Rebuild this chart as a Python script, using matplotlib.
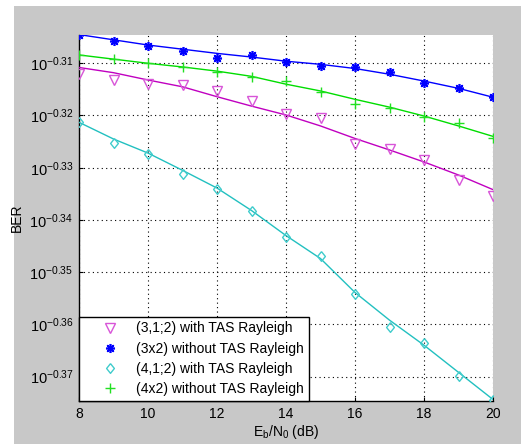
import matplotlib
matplotlib.use("Agg")
import matplotlib.pyplot as plt
import matplotlib.ticker as mticker
from matplotlib.patches import Rectangle
import numpy as np

plt.rcParams['font.family'] = ['Liberation Sans', 'DejaVu Sans']
plt.rcParams['mathtext.fontset'] = 'custom'
plt.rcParams['mathtext.rm'] = 'Liberation Sans'
plt.rcParams['mathtext.it'] = 'Liberation Sans'

# Eb/N0 (dB)
snr = [8, 9, 10, 11, 12, 13, 14, 15, 16, 17, 18, 19, 20]

# BER values given as log10 exponents
# simulated points (markers)
sim_31_tas = [-0.3121, -0.3132, -0.3140, -0.3142, -0.3153, -0.3172, -0.3198,
              -0.3204, -0.3255, -0.3264, -0.3286, -0.3324, -0.3355]
sim_3x2 = [-0.3045, -0.3057, -0.3066, -0.3076, -0.3089, -0.3085, -0.3098,
           -0.3105, -0.3108, -0.3116, -0.3137, -0.3148, -0.3165]
sim_41_tas = [-0.3213, -0.3252, -0.3273, -0.3312, -0.3340, -0.3383, -0.3433,
              -0.3470, -0.3541, -0.3605, -0.3636, -0.3699, -0.3745]
sim_4x2 = [-0.3085, -0.3092, -0.3100, -0.3108, -0.3116, -0.3126, -0.3134,
           -0.3155, -0.3178, -0.3186, -0.3202, -0.3215, -0.3244]

# analytical curves (lines)
ana_31_tas = [-0.3108, -0.3118, -0.3132, -0.3145, -0.3164, -0.3182, -0.3199,
              -0.3220, -0.3244, -0.3266, -0.3289, -0.3314, -0.3342]
ana_3x2 = [-0.3045, -0.3055, -0.3065, -0.3073, -0.3081, -0.3088, -0.3096,
           -0.3102, -0.3110, -0.3121, -0.3134, -0.3148, -0.3165]
ana_41_tas = [-0.3213, -0.3245, -0.3272, -0.3305, -0.3339, -0.3382, -0.3430,
              -0.3474, -0.3539, -0.3592, -0.3640, -0.3692, -0.3744]
ana_4x2 = [-0.3084, -0.3092, -0.3100, -0.3107, -0.3115, -0.3125, -0.3140,
           -0.3153, -0.3169, -0.3184, -0.3201, -0.3220, -0.3240]

labels = ['(3,1;2) with TAS Rayleigh', '(3x2) without TAS Rayleigh',
          '(4,1;2) with TAS Rayleigh', '(4x2) without TAS Rayleigh']

xticks = [8, 10, 12, 14, 16, 18, 20]
ytick_exp = [-0.31, -0.32, -0.33, -0.34, -0.35, -0.36, -0.37]
ytick_lbl = ['-0.31', '-0.32', '-0.33', '-0.34', '-0.35', '-0.36', '-0.37']

W, H = 521, 444
fig = plt.figure(figsize=(W / 100, H / 100), dpi=100, facecolor='white')
fig.patches.append(Rectangle((14 / W, 0), 1 - 14 / W, (H - 6) / H,
                             transform=fig.transFigure, facecolor='#c8c8c8',
                             edgecolor='none', zorder=-10))

ax = fig.add_axes([79 / W, 1 - 401 / H, (493 - 79) / W, (401 - 35) / H])
ax.set_facecolor('white')

diamond = [(0, 1), (0.8, 0), (0, -1), (-0.8, 0), (0, 1)]

x = np.array(snr)
series = [
    (sim_31_tas, ana_31_tas, '#c000c0', '#d855d8', 'v', 7.5, 'none', 1.0),
    (sim_3x2, ana_3x2, '#0000ff', '#0000ff', (8, 2, 0), 6.5, None, 1.2),
    (sim_41_tas, ana_41_tas, '#22c0c0', '#40cccc', diamond, 7, 'none', 1.0),
    (sim_4x2, ana_4x2, '#00dd00', '#22e022', '+', 7.5, None, 1.0),
]
handles = []
for (sim, ana, lc, mc, mk, ms, mfc, mew), lab in zip(series, labels):
    ax.plot(x, 10 ** np.array(ana), color=lc, lw=1.0, zorder=3)
    kw = dict(marker=mk, ms=ms, color=mc, ls='none', mew=mew, zorder=4)
    if mfc is not None:
        kw['mfc'] = mfc
    h, = ax.plot(x, 10 ** np.array(sim), label=lab, **kw)
    handles.append(h)

ax.set_yscale('log')
ax.set_xlim(8, 20)
ax.set_ylim(10 ** -0.37469, 10 ** -0.30458)
ax.set_xticks(xticks)
ax.set_xticklabels([str(t) for t in xticks])
ax.set_yticks([10 ** e for e in ytick_exp])
ax.set_yticklabels([r'$10^{' + s + '}$' for s in ytick_lbl])
ax.yaxis.set_minor_locator(mticker.NullLocator())
ax.tick_params(axis='both', direction='in', length=3, labelsize=10,
               colors='black', pad=4)
ax.tick_params(axis='y', labelsize=10.5)

ax.grid(True, which='major', color='black', ls=(0, (1, 3)), lw=0.8)
for s in ['top', 'right']:
    ax.spines[s].set_visible(False)
for s in ['left', 'bottom']:
    ax.spines[s].set_color('black')
    ax.spines[s].set_linewidth(1.0)

ax.set_ylabel('BER', fontsize=10)
ax.yaxis.set_label_coords(-0.133, 0.5)
ax.set_xlabel(r'E$_{\mathregular{b}}$/N$_{\mathregular{0}}$ (dB)', fontsize=10, labelpad=2)

leg = ax.legend(handles=handles, loc='lower left', bbox_to_anchor=(0.0, 0.0),
                fontsize=10, frameon=True, fancybox=False, borderaxespad=0,
                handlelength=3.75, handletextpad=0.0, labelspacing=0.45,
                borderpad=0.35)
leg.get_frame().set_edgecolor('black')
leg.get_frame().set_linewidth(1.0)
leg.get_frame().set_facecolor('white')
leg.get_frame().set_alpha(1)

fig.savefig('out.png', dpi=100, facecolor=fig.get_facecolor())
